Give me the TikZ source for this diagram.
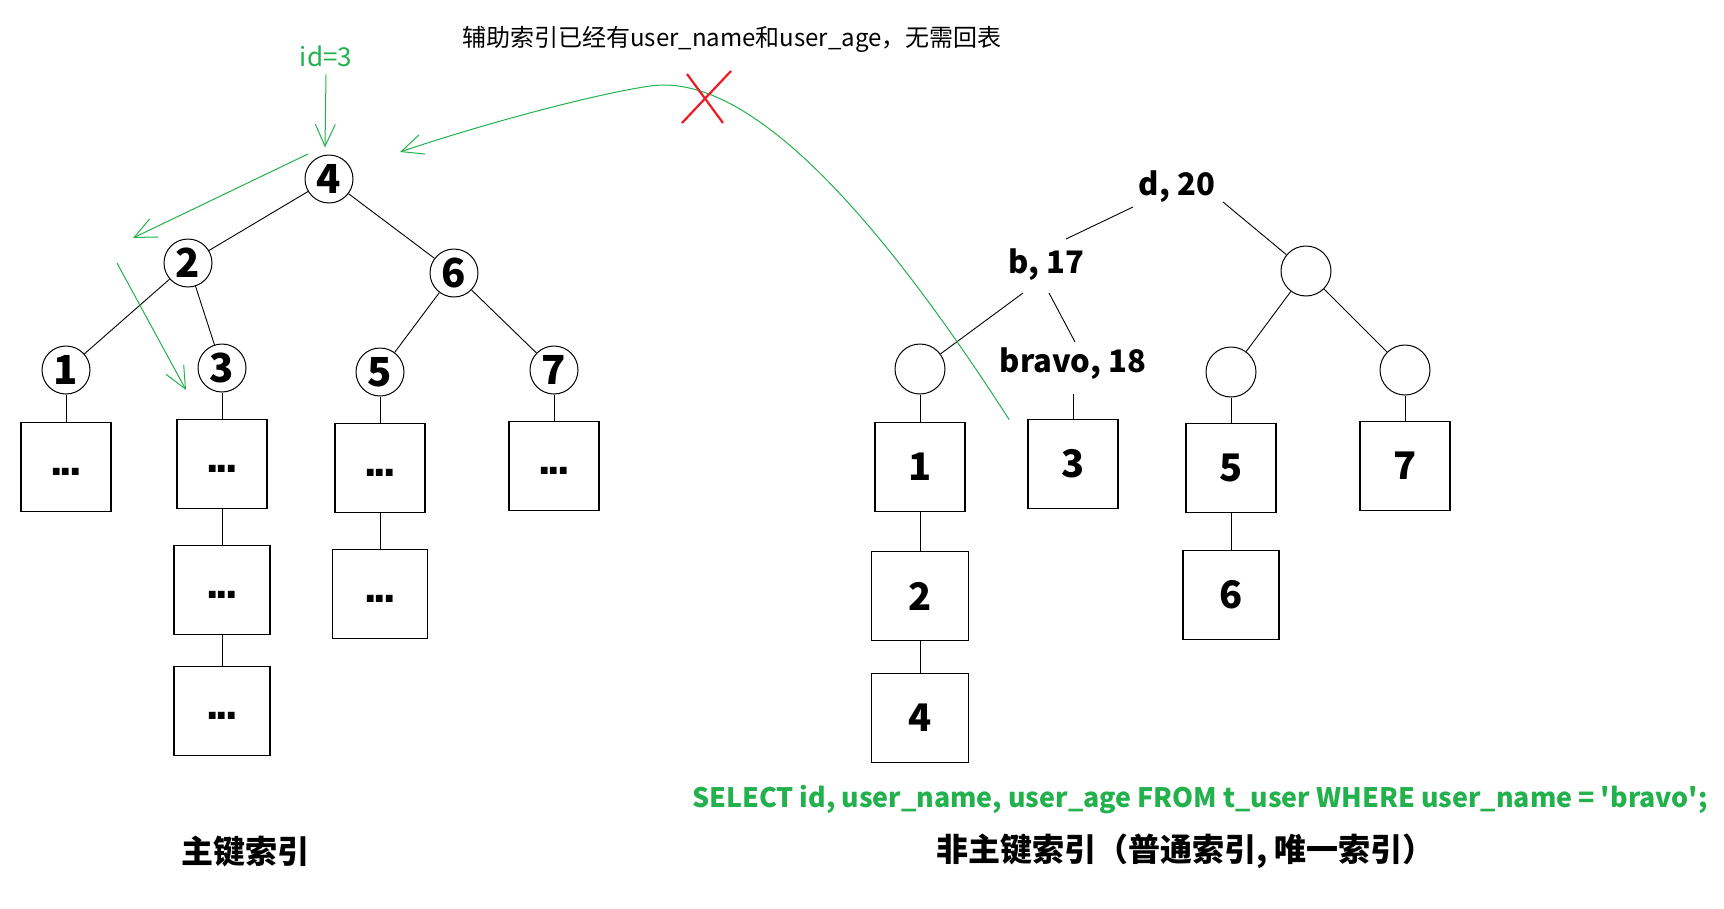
\documentclass[tikz,border=0pt]{standalone}
\usepackage{fontspec}
\setmainfont{Noto Sans CJK SC}
\newfontfamily\dotfont{DejaVu Sans}
\usetikzlibrary{arrows.meta,calc}
\definecolor{pgreen}{RGB}{34,177,76}
\definecolor{pred}{RGB}{237,28,36}
\newcommand\threedots{.\kern-5pt.\kern-5pt.}
\begin{document}
\begin{tikzpicture}[x=1pt,y=-1pt,
  circ/.style={circle,draw,line width=1pt,minimum size=48pt,inner sep=0pt,font=\fontsize{40}{40}\selectfont\bfseries},
  ecirc/.style={circle,draw,line width=1pt,minimum size=50pt,inner sep=0pt},
  leaf/.style={draw,line width=1.6pt,minimum width=90pt,minimum height=89pt,inner sep=0pt,font=\fontsize{38}{38}\selectfont\bfseries},
  dots/.style={leaf,font=\dotfont\fontsize{38}{38}\selectfont\bfseries,text height=17pt,text depth=0pt},
  key/.style={inner sep=2pt,font=\fontsize{31}{31}\selectfont\bfseries},
  edge/.style={line width=0.9pt},
  garrow/.style={draw=pgreen,line width=1pt,-{Straight Barb[length=22pt,width=20pt]}},
]
\fill[white] (0,0) rectangle (1724,908);
\useasboundingbox (0,0) rectangle (1724,908);

% ---- left tree (primary key index)
\node[circ] (c4) at (329,179) {4};
\node[circ] (c2) at (188,263) {2};
\node[circ] (c6) at (454,273) {6};
\node[circ] (c1) at (66,370) {1};
\node[circ] (c3) at (222,368) {3};
\node[circ] (c5) at (380,372) {5};
\node[circ] (c7) at (554,370) {7};

\node[dots] (l1) at (66,467) {\threedots};
\node[dots] (l3) at (222,464) {\threedots};
\node[dots,minimum width=96pt] (l3b) at (222,590) {\threedots};
\node[dots,minimum width=96pt] (l3c) at (222,711) {\threedots};
\node[dots] (l5) at (380,468) {\threedots};
\node[dots,minimum width=95pt] (l5b) at (380,594) {\threedots};
\node[dots] (l7) at (554,466) {\threedots};

\draw[edge] (c4) -- (c2);
\draw[edge] (c4) -- (c6);
\draw[edge] (c2) -- (c1);
\draw[edge] (c2) -- (c3);
\draw[edge] (c6) -- (c5);
\draw[edge] (c6) -- (c7);
\draw[edge] (c1) -- (l1);
\draw[edge] (c3) -- (l3);
\draw[edge] (l3) -- (l3b);
\draw[edge] (l3b) -- (l3c);
\draw[edge] (c5) -- (l5);
\draw[edge] (l5) -- (l5b);
\draw[edge] (c7) -- (l7);

% ---- right tree (secondary index)
\node[key] (d20) at (1177,187) {d, 20};
\node[key] (b17) at (1046,265) {b, 17};
\node[key] (bravo) at (1073,364) {bravo, 18};
\node[ecirc] (R) at (1306,271) {};
\node[ecirc] (L) at (920,369) {};
\node[ecirc] (R5) at (1231,372) {};
\node[ecirc] (R7) at (1405,370) {};

\node[leaf] (rb1) at (920,467) {1};
\node[leaf] (rb3) at (1073,464) {3};
\node[leaf] (rb5) at (1231,468) {5};
\node[leaf] (rb7) at (1405,466) {7};
\node[leaf,minimum width=97pt] (rb2) at (920,596) {2};
\node[leaf,minimum width=97pt] (rb4) at (920,718) {4};
\node[leaf,minimum width=96pt] (rb6) at (1231,595) {6};

\draw[edge] ($(d20)+(-44,20)$) -- ($(b17)+(20,-26)$);
\draw[edge] ($(d20)+(46,15)$) -- (R);
\draw[edge] ($(b17)+(-23,28)$) -- (L);
\draw[edge] ($(b17)+(3,28)$) -- ($(bravo)+(2,-22)$);
\draw[edge] (R) -- (R5);
\draw[edge] (R) -- (R7);
\draw[edge] (L) -- (rb1);
\draw[edge] (rb1) -- (rb2);
\draw[edge] (rb2) -- (rb4);
\draw[edge] ($(bravo)+(0,30)$) -- (rb3);
\draw[edge] (R5) -- (rb5);
\draw[edge] (rb5) -- (rb6);
\draw[edge] (R7) -- (rb7);

% ---- green search paths
\node[font=\fontsize{26}{26}\selectfont, text=pgreen, inner sep=0pt] (id) at (326,56) {id=3};
\draw[garrow] ($(id.south)+(0,8)$) -- ($(c4.north)+(-4,-7)$);
\draw[garrow] ($(c4)+(-21,-25)$) -- ($(c2)+(-55,-25)$);
\draw[garrow] ($(c2)+(-71,0)$) -- ($(c3)+(-36,22)$);
\draw[garrow] ($(rb3.north west)+(-18,1)$) .. controls (900,250) and (760,70) .. (650,86)
  .. controls (590,95) and (480,125) .. ($(c4)+(71,-27)$);

% ---- red cross
\draw[pred,line width=2.2pt] (687,74) -- (723,123) (731,71) -- (682,123);

% ---- texts
\node[anchor=west,inner sep=0pt,font=\fontsize{24}{24}\selectfont] (note) at (462,39)
  {辅助索引已经有user\_name和user\_age，无需回表};
\node[anchor=west,inner sep=0pt,text=pgreen,font=\fontsize{26.8}{27}\selectfont\bfseries] (sql) at (692,800)
  {SELECT id, user\_name, user\_age FROM t\_user WHERE user\_name = \textquotesingle bravo\textquotesingle;};
\node[inner sep=0pt,font=\fontsize{32}{32}\selectfont\bfseries] (pk) at (245,851) {主键索引};
\node[anchor=west,inner sep=0pt,font=\fontsize{32}{32}\selectfont\bfseries] (sk) at (936,851)
  {非主键索引（普通索引, 唯一索引）};
\end{tikzpicture}
\end{document}
